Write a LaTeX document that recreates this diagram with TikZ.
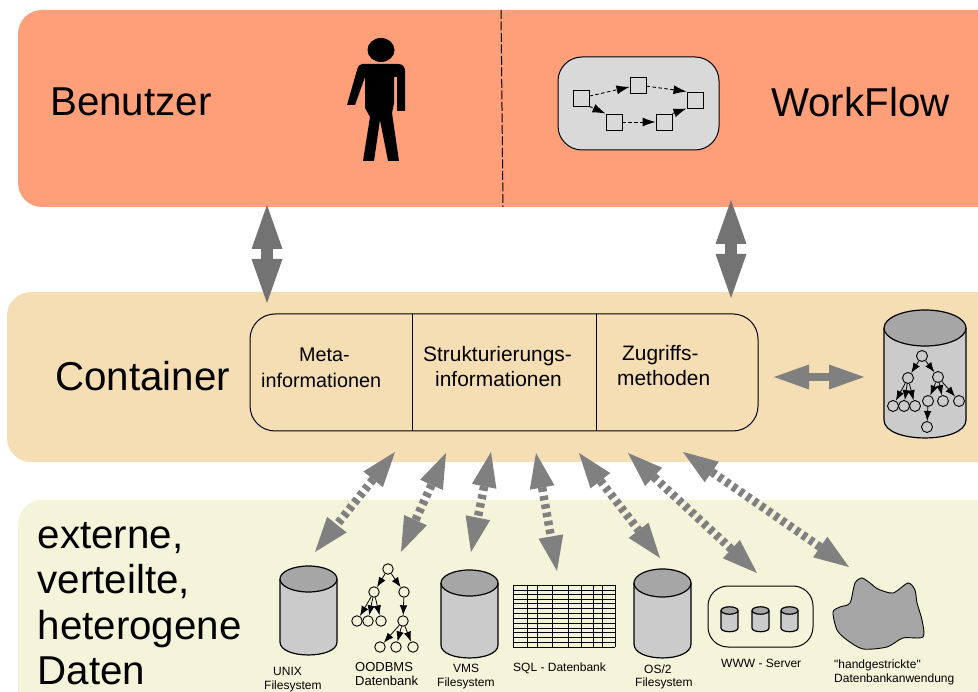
\documentclass[tikz,border=0pt]{standalone}
\usepackage{fontspec}
\setmainfont{Liberation Sans}
\newfontfamily\plainquote{Liberation Sans}[Ligatures=NoCommon]
\usetikzlibrary{calc,arrows.meta}
\definecolor{topc}{HTML}{FF9F7A}
\definecolor{midc}{HTML}{F5DDB4}
\definecolor{botc}{HTML}{F4F4DA}
\definecolor{arrc}{HTML}{808080}
\definecolor{cylc}{HTML}{CBCBCB}
\definecolor{cyltop}{HTML}{A6A6A6}
\definecolor{flowc}{HTML}{D9D9D9}
\tikzset{
  panel/.style={rounded corners=24pt},
  biglab/.style={anchor=base west,inner sep=0pt,font=\fontsize{40.3}{40}\selectfont},
  midlab/.style={anchor=base west,inner sep=0pt,font=\fontsize{19.8}{20}\selectfont},
  midlabb/.style={anchor=base west,inner sep=0pt,font=\fontsize{20.9}{20}\selectfont},
  smalllab/.style={anchor=base west,inner sep=0pt,font=\fontsize{12}{12}\selectfont},
  oolab/.style={anchor=base west,inner sep=0pt,font=\fontsize{13}{13}\selectfont},
  circ/.style={circle,draw=black,fill=none,line width=0.9pt,minimum size=11pt,inner sep=0pt},
  circs/.style={circle,draw=black,fill=none,line width=0.9pt,minimum size=10.5pt,inner sep=0pt},
  treearrow/.style={-{Latex[length=10pt,width=7.5pt]},line width=0.8pt,black},
  flowbox/.style={draw=black,fill=flowc,line width=0.9pt,minimum size=16pt,inner sep=0pt},
  flowarrow/.style={-{Latex[length=13pt,width=9pt]},line width=0.9pt,dash pattern=on 3.5pt off 2.5pt,black},
}
\newcommand\cylshape[5]{%
  \draw[line width=1.2pt,black,fill=cylc] (#1-#3,#2) -- (#1-#3,#5) .. controls (#1-#3,#5+#4*1.33) and (#1+#3,#5+#4*1.33) .. (#1+#3,#5) -- (#1+#3,#2);
  \draw[line width=1.2pt,black,fill=cyltop] (#1,#2) ellipse[x radius=#3,y radius=#4];
}
\newcommand\fatarrow[7][arrc]{%
  \coordinate (fb1) at ($(#2)!#4pt!(#3)$);
  \coordinate (fb2) at ($(#3)!#4pt!(#2)$);
  \draw[#1,line width=#6pt,#7] (fb1) -- (fb2);
  \fill[#1] (#2) -- ($(fb1)!#5pt!90:(#3)$) -- ($(fb1)!#5pt!-90:(#3)$) -- cycle;
  \fill[#1] (#3) -- ($(fb2)!#5pt!90:(#2)$) -- ($(fb2)!#5pt!-90:(#2)$) -- cycle;
}
\begin{document}
\begin{tikzpicture}[x=1pt,y=-1pt]
\useasboundingbox (0,0) rectangle (978,692);
\clip (0,0) rectangle (978,692);
\fill[white] (0,0) rectangle (978,692);
% panels
\fill[topc,panel] (18,10) rectangle (1000,207);
\fill[midc,panel] (7,292) rectangle (1000,462);
\fill[botc,panel] (18,500) rectangle (1000,720);
\coordinate (dashA) at (501,10);
\coordinate (dashB) at (503,207);
\draw[black,line width=1pt,dash pattern=on 9pt off 2.5pt] (dashA) -- (dashB);
% top labels
\node[biglab] (benutzer) at (50,116) {Benutzer};
\node[biglab] (workflow) at (771,117) {WorkFlow};
% person
\fill[black] (381,50) ellipse[x radius=13.5,y radius=12];
\fill[black] (362,64) -- (398,64) .. controls (403,64) and (405,67) .. (405,71) -- (405,111) -- (397,111) -- (397,77) -- (394,77) -- (394,103) -- (392,113) -- (399,161) -- (388,161) -- (380,120) -- (374,161) -- (363,161) -- (370,117) -- (365,108) -- (365,77) -- (355,105) -- (347,105) -- (357,70) .. controls (358,66) and (360,64) .. (362,64) -- cycle;
% workflow box
\draw[black,fill=flowc,line width=1pt,rounded corners=24pt] (558,57) rectangle (719,150);
\node[flowbox] (f1) at (581,98) {};
\node[flowbox] (f2) at (638,85) {};
\node[flowbox] (f3) at (695,100) {};
\node[flowbox] (f4) at (614,122) {};
\node[flowbox] (f5) at (664,122) {};
\draw[flowarrow] (f1) -- (f2);
\draw[flowarrow] (f2) -- (f3.north west);
\draw[flowarrow] (f1.south east) -- (f4.north west);
\draw[flowarrow] (f4) -- (f5);
\draw[flowarrow] (f5.north east) -- (f3.south west);
% thick arrows
\coordinate (a1) at (267,205); \coordinate (a2) at (267,303);
\coordinate (b1) at (731,200); \coordinate (b2) at (731,298);
\coordinate (c1) at (774,377); \coordinate (c2) at (864,377);
\fatarrow[arrc!90!black]{a1}{a2}{44}{15.5}{12}{}
\fatarrow[arrc!90!black]{b1}{b2}{44}{15.5}{12}{}
\fatarrow{c1}{c2}{35}{12.5}{8}{}
% container
\node[biglab] (container) at (55,391) {Container};
\draw[black,line width=1pt,rounded corners=25pt] (250,314) rectangle (758,431);
\coordinate (d1) at (412,314); \coordinate (d2) at (412,431);
\coordinate (d3) at (596,314); \coordinate (d4) at (596,431);
\draw[black,line width=1pt] (d1) -- (d2);
\draw[black,line width=1pt] (d3) -- (d4);
\node[midlab] (m1) at (299,362) {Meta-};
\node[midlab] (m2) at (261,388) {informationen};
\node[midlabb] (m3) at (423,361.5) {Strukturierungs-};
\node[midlabb] (m4) at (435,386.5) {informationen};
\node[midlabb] (m5) at (622,361) {Zugriffs-};
\node[midlabb] (m6) at (617,386) {methoden};
% big cylinder
\cylshape{925}{328}{41}{18}{420}
\node[circ] (r0) at (922,356) {};
\node[circ] (r1) at (908,378) {};
\node[circ] (r2) at (938,377) {};
\node[circ] (r3) at (893,406) {};
\node[circ] (r4) at (904,406) {};
\node[circ] (r5) at (915,406) {};
\node[circ] (r6) at (928,401) {};
\node[circ] (r7) at (943,401) {};
\node[circ] (r8) at (959,401) {};
\node[circ] (r9) at (927,427) {};
\foreach \p/\q in {r0/r1,r0/r2,r1/r3,r1/r4,r1/r5,r2/r6,r2/r7,r2/r8,r6/r9}{\draw[treearrow] (\p) -- (\q);}
% external data label
\node[biglab] (e1) at (37.5,548) {externe,};
\node[biglab] (e2) at (37.5,593) {verteilte,};
\node[biglab] (e3) at (37.5,639) {heterogene};
\node[biglab] (e4) at (37.5,684) {Daten};
% dashed fat arrows
\coordinate (p1) at (395,452); \coordinate (q1) at (315,552);
\coordinate (p2) at (446,453); \coordinate (q2) at (401,552);
\coordinate (p3) at (491,452); \coordinate (q3) at (471,552);
\coordinate (p4) at (536,453); \coordinate (q4) at (557,571);
\coordinate (p5) at (579,453); \coordinate (q5) at (660,558);
\coordinate (p6) at (628,453); \coordinate (q6) at (757,573);
\coordinate (p7) at (683,452); \coordinate (q7) at (849,567);
\foreach \n in {1,...,7}{\fatarrow{p\n}{q\n}{35}{12.5}{8.5}{dash pattern=on 4.5pt off 4pt}}
% cylinders
\cylshape{308.5}{579}{28.5}{13}{642}
\cylshape{469.5}{583}{28.5}{13}{645}
\cylshape{662.5}{583}{28.5}{14}{644}
% OODBMS tree
\node[circs] (t0) at (388,569) {};
\node[circs] (t1) at (374,592) {};
\node[circs] (t2) at (404,592) {};
\node[circs] (t3) at (357,621) {};
\node[circs] (t4) at (368,621) {};
\node[circs] (t5) at (381,621) {};
\node[circs] (t6) at (403,621) {};
\node[circs] (t7) at (380,647) {};
\node[circs] (t8) at (396,647) {};
\node[circs] (t9) at (413,647) {};
\foreach \p/\q in {t0/t1,t0/t2,t1/t3,t1/t4,t1/t5,t2/t6,t6/t7,t6/t8,t6/t9}{\draw[treearrow] (\p) -- (\q);}
% SQL table
\foreach \x in {513,527,537,552,568,581,593,602,615}{\draw[black,line width=0.9pt] (\x,585) -- (\x,647);}
\foreach \y in {585,590,594.5,599,603.5,608.5,613.5,618.5,623.5,628,632.5,637,642,647}{\draw[black,line width=0.9pt] (513,\y) -- (615,\y);}
% WWW server
\draw[black,line width=1pt,rounded corners=20pt] (708,586) rectangle (813,647);
\cylshape{729.5}{610.5}{8.5}{3.7}{628}
\cylshape{760.5}{610.5}{8.5}{3.7}{628}
\cylshape{789.5}{610.5}{8.5}{3.7}{628}
% blob
\draw[black,line width=0.9pt,fill=cyltop] plot[smooth cycle,tension=0.45] coordinates {(833,612) (840,607) (850,603) (855,583) (862,578) (870,583) (878,589) (893,593) (908,583) (915,590) (917,603) (922,620) (923,637) (903,638) (887,647) (863,649) (847,640) (837,630)};
% small labels
\node[smalllab] (l1) at (273,675) {UNIX};
\node[smalllab] (l2) at (264,689) {Filesystem};
\node[oolab] (l3) at (355,671) {OODBMS};
\node[oolab] (l4) at (355,685) {Datenbank};
\node[smalllab] (l5) at (453,672) {VMS};
\node[smalllab] (l6) at (437,686) {Filesystem};
\node[smalllab] (l7) at (513,671) {SQL - Datenbank};
\node[smalllab] (l8) at (644,673) {OS/2};
\node[smalllab] (l9) at (635,686) {Filesystem};
\node[smalllab] (l10) at (721,667) {WWW - Server};
\node[smalllab] (l11) at (834,668) {\plainquote "handgestrickte"};
\node[smalllab] (l12) at (834,682) {Datenbankanwendung};
\end{tikzpicture}
\end{document}
